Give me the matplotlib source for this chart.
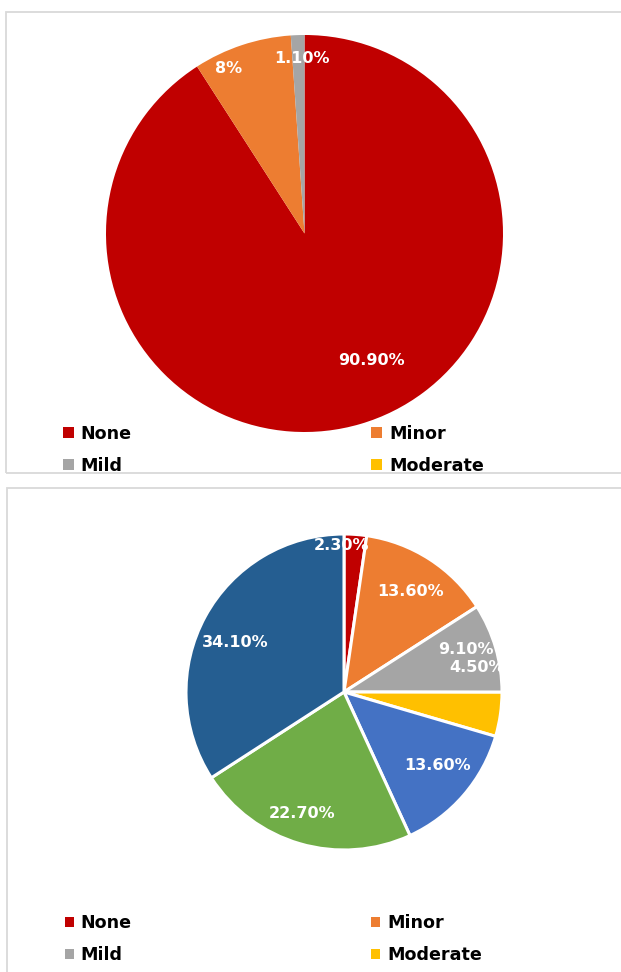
import matplotlib.pyplot as plt
from matplotlib.patches import Patch, Rectangle

plt.rcParams['font.family'] = ['DejaVu Sans']

W, H = 621, 972

categories = ["None", "Minor", "Mild", "Moderate"]
colors = ["#C00000", "#ED7D31", "#A5A5A5", "#FFC000"]

top_values = [90.9, 8, 1.1, 0]
top_labels = ["90.90%", "8%", "1.10%", ""]

bottom_values = [2.3, 13.6, 9.1, 4.5, 13.6, 22.7, 34.1]
bottom_labels = ["2.30%", "13.60%", "9.10%", "4.50%", "13.60%", "22.70%", "34.10%"]
bottom_colors = colors + ["#4472C4", "#70AD47", "#255E91"]

# where each percentage sits, in units of the pie radius
top_label_pos = [(0.335, -0.642), (-0.385, 0.829), (-0.013, 0.884), (0, 0)]
bottom_label_pos = [(-0.013, 0.93), (0.418, 0.639), (0.772, 0.272), (0.842, 0.158),
                    (0.589, -0.468), (-0.266, -0.766), (-0.69, 0.316)]


def pie_axes(fig, cx, cy, r):
    # square axes around a pie centred at (cx, cy) px with radius r px
    return fig.add_axes([(cx - r) / W, 1 - (cy + r) / H, 2 * r / W, 2 * r / H])


def draw_pie(ax, values, labels, cols, label_pos, edge):
    wedgeprops = {"linewidth": 2.2, "edgecolor": "white"} if edge else {"linewidth": 0}
    ax.pie(values, colors=cols, startangle=90, counterclock=False,
           radius=1, wedgeprops=wedgeprops)
    for text, (dx, dy) in zip(labels, label_pos):
        if text:
            ax.text(dx, dy, text, color="white", fontsize=11.5,
                    fontweight="bold", ha="center", va="center")
    ax.set_xlim(-1.0, 1.0)
    ax.set_ylim(-1.0, 1.0)
    ax.axis("off")


def add_panel(fig, top, bottom, left=6):
    fig.add_artist(Rectangle((left / W, 1 - bottom / H), 1, (bottom - top) / H,
                             transform=fig.transFigure, fill=False,
                             edgecolor="#D9D9D9", linewidth=1.3))


def add_legend(fig, x, y, hsize, gap):
    order = [0, 2, 1, 3]
    handles = [Patch(facecolor=colors[i], edgecolor="none") for i in order]
    names = [categories[i] for i in order]
    fig.legend(handles, names, loc="upper left",
               bbox_to_anchor=(x / W, 1 - y / H), ncol=2, frameon=False,
               prop={"size": 12.6, "weight": "bold"}, borderpad=0,
               borderaxespad=0, handlelength=hsize, handleheight=hsize,
               handletextpad=gap, columnspacing=13.7, labelspacing=0.82)


fig = plt.figure(figsize=(W / 100, H / 100), dpi=100)

add_panel(fig, 12, 473)
add_panel(fig, 488, 980, left=7)

ax1 = pie_axes(fig, 304.5, 233.5, 198.5)
draw_pie(ax1, top_values, top_labels, colors, top_label_pos, edge=False)
add_legend(fig, 63, 424.5, 0.61, 0.4)

ax2 = pie_axes(fig, 344, 692, 158)
draw_pie(ax2, bottom_values, bottom_labels, bottom_colors, bottom_label_pos, edge=True)
add_legend(fig, 65, 914, 0.49, 0.4)

fig.savefig("out.png", dpi=100)
